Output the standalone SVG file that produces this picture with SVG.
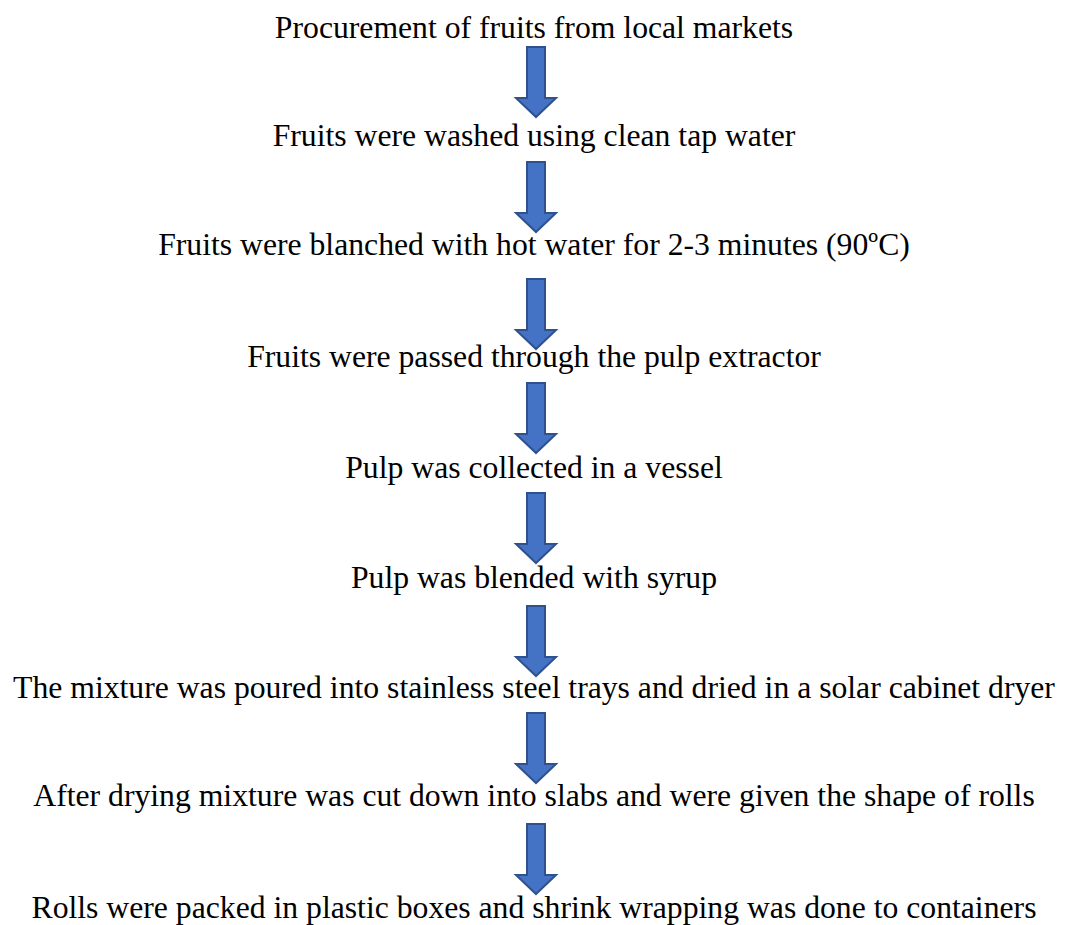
<svg xmlns="http://www.w3.org/2000/svg" xmlns:xlink="http://www.w3.org/1999/xlink" width="1067" height="925" viewBox="0 0 1067 925">
<style>
text{font-family:"Liberation Serif","Times New Roman",serif;font-size:31.7px;fill:#000;text-anchor:middle}
.a{fill:#4472C4;stroke:#2F528F;stroke-width:2;stroke-linejoin:miter}
</style>
<defs>
<path id="arr" class="a" d="M-9,0 H9 V51 H20 L0,70 L-20,51 H-9 Z"/>
</defs>
<rect width="1067" height="925" fill="#fff"/>
<g id="connectors">
<use xlink:href="#arr" x="536" y="47"/>
<use xlink:href="#arr" x="536" y="162"/>
<use xlink:href="#arr" x="536" y="279"/>
<use xlink:href="#arr" x="536" y="383"/>
<use xlink:href="#arr" x="536" y="493"/>
<use xlink:href="#arr" x="536" y="606"/>
<use xlink:href="#arr" x="536" y="713"/>
<use xlink:href="#arr" x="536" y="824"/>
</g>
<g id="step1"><text x="534" y="38">Procurement of fruits from local markets</text></g>
<g id="step2"><text x="534" y="146">Fruits were washed using clean tap water</text></g>
<g id="step3"><text x="534" y="255">Fruits were blanched with hot water for 2-3 minutes (90ºC)</text></g>
<g id="step4"><text x="534" y="367">Fruits were passed through the pulp extractor</text></g>
<g id="step5"><text x="534" y="478">Pulp was collected in a vessel</text></g>
<g id="step6"><text x="534" y="588">Pulp was blended with syrup</text></g>
<g id="step7"><text x="534" y="698">The mixture was poured into stainless steel trays and dried in a solar cabinet dryer</text></g>
<g id="step8"><text x="534" y="806">After drying mixture was cut down into slabs and were given the shape of rolls</text></g>
<g id="step9"><text x="534" y="918">Rolls were packed in plastic boxes and shrink wrapping was done to containers</text></g>
</svg>
